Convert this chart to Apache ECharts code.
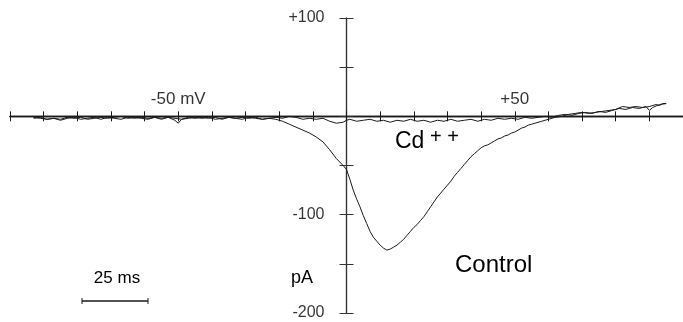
<!DOCTYPE html>
<html>
<head>
<meta charset="utf-8">
<script src="https://cdn.jsdelivr.net/npm/echarts@6/dist/echarts.min.js"></script>
<style>
  html, body { margin: 0; padding: 0; background: #fff; }
  #chart { width: 683px; height: 322px; }
</style>
</head>
<body>
<div id="chart"></div>
<script>
// voltage (mV) and current (pA)
const controlV = [-93, -91, -89, -87, -85, -83, -81, -79, -77, -75, -73, -71, -69, -67, -65, -63, -61, -59, -57, -55,
  -53, -51, -49, -47, -45, -43, -41, -39, -37, -35, -33, -31, -29, -27, -25, -23, -21, -19, -17, -15,
  -13, -11, -9, -7, -5, -3, -1, 0, 1, 2, 3, 4, 5, 6, 7, 8, 9, 10, 11, 12,
  13, 14, 15, 16, 17, 18, 19, 20, 21, 22, 23, 24, 25, 26, 27, 28, 29, 30, 31, 32,
  33, 34, 35, 36, 37, 38, 39, 40, 41, 42, 43, 44, 45, 46, 47, 48, 49, 50, 51, 52,
  53, 54, 55, 56, 58, 60, 62, 64, 66, 68, 70, 72, 74, 76, 78, 80, 82, 84, 86, 88,
  90, 92, 93, 94, 95];
const controlI = [-1, -2, -3, -2, -3, -1, -2, -1, -3, -2, -1, -2, -1, 0, -2, -1, -2, -3, -1, -2,
  -1, -2, -3, -2, -1, -2, -1, -3, -2, -1, -2, -3, -1, -2, -3, -2, -3, -5, -8, -11,
  -14, -17, -21, -26, -34, -43, -50, -54, -64, -75, -84, -92, -101, -109, -117, -123, -127, -131, -134, -136,
  -135, -133, -131, -128, -125, -121, -117, -113, -110, -106, -102, -97, -92, -87, -82, -78, -74, -70, -66, -61,
  -57, -53, -49, -45, -41, -38, -35, -32, -30, -29, -27, -25, -23, -22, -20, -19, -17, -16, -14, -12,
  -11, -9, -8, -7, -5, -3, -1, 0, 2, 3, 4, 3, 4, 5, 6, 7, 10, 9, 10, 9,
  10, 12, 11, 13, 13];

const cdV = [-93, -91, -89, -87, -85, -83, -81, -79, -77, -75, -73, -71, -69, -67, -65, -63, -61, -59, -57, -55,
  -53, -51, -50, -49, -47, -45, -43, -41, -39, -37, -35, -33, -31, -29, -27, -25, -23, -21, -19, -17,
  -15, -13, -11, -9, -7, -5, -3, -1, 0, 1, 3, 5, 7, 9, 11, 13, 15, 17, 19, 21,
  23, 25, 27, 29, 31, 33, 35, 37, 39, 41, 43, 45, 47, 49, 51, 53, 55, 57, 59, 61,
  63, 65, 67, 69, 71, 73, 75, 77, 79, 81, 83, 85, 87, 89, 90, 91, 93, 95];
const cdI = [-2, -1, -3, -2, -4, -2, -1, -3, -2, -1, -3, -1, -2, -3, -1, -2, -1, -2, -1, -3,
  -1, -4, -7, -3, -1, -2, -1, -2, -1, -3, -1, -2, -1, -2, -1, -3, -2, -1, -2, 0,
  -1, -3, -2, -3, -2, -5, -7, -6, -4, -3, -5, -4, -3, -5, -4, -6, -4, -5, -3, -5,
  -4, -6, -4, -5, -3, -5, -4, -3, -5, -3, -4, -2, -3, -2, -3, -1, -2, -1, 0, -1,
  1, 2, 1, 3, 4, 3, 5, 4, 6, 8, 7, 9, 8, 10, 6, 9, 12, 13];

// tick labels printed on the figure (value, text)
const xTickVals = [-50, 50];
const xTickText = ['-50 mV', '+50'];
const yTickVals = [100, -100, -200];
const yTickText = ['+100', '-100', '-200'];

const chart = echarts.init(document.getElementById('chart'));
const font = 'Liberation Sans, Arial, Helvetica, sans-serif';
const ink = '#1a1a1a';

const xBase = {
  type: 'value', min: -100, max: 100, interval: 10,
  splitLine: { show: false },
  axisLabel: { show: false },
  axisLine: { onZero: true, lineStyle: { color: ink, width: 1.3 } },
  axisTick: { inside: false, length: 5, lineStyle: { color: ink } },
};
const yBase = {
  type: 'value', min: -200, max: 100, interval: 50,
  splitLine: { show: false },
  axisLabel: { show: false },
  axisLine: { onZero: true, lineStyle: { color: '#333', width: 1.2 } },
  axisTick: { inside: false, length: 7, lineStyle: { color: '#333' } },
};

chart.setOption({
  animation: false,
  grid: { left: 10, right: 0, top: 18, bottom: 9, containLabel: false, outerBoundsMode: 'none' },
  // two axes per direction so the ticks cross the axis line
  xAxis: [
    Object.assign({}, xBase, { position: 'bottom' }),
    Object.assign({}, xBase, { position: 'top' }),
  ],
  yAxis: [
    Object.assign({}, yBase, { position: 'left' }),
    Object.assign({}, yBase, { position: 'right' }),
  ],
  series: [
    {
      name: 'Control', type: 'line', showSymbol: false,
      lineStyle: { color: ink, width: 1 },
      data: controlV.map((v, i) => [v, controlI[i]]),
    },
    {
      name: 'Cd++', type: 'line', showSymbol: false,
      lineStyle: { color: ink, width: 1 },
      data: cdV.map((v, i) => [v, cdI[i]]),
    },
    {
      // y tick labels, placed through the axes
      type: 'scatter', symbolSize: 0, silent: true,
      data: yTickVals.map((v, i) => [0, v, yTickText[i]]),
      label: {
        show: true, position: 'left', distance: 22, color: '#000', fontSize: 16, fontFamily: font,
        formatter: (p) => p.value[2],
      },
    },
    {
      // x tick labels above the axis
      type: 'scatter', symbolSize: 0, silent: true,
      data: xTickVals.map((v, i) => [v, 0, xTickText[i]]),
      label: {
        show: true, position: 'top', distance: 9, color: '#000', fontSize: 17, fontFamily: font,
        formatter: (p) => p.value[2],
      },
    },
  ],
  graphic: [
    { type: 'text', x: 395, y: 142, style: { text: 'Cd', font: '23px ' + font, fill: '#000', verticalAlign: 'middle' } },
    { type: 'text', x: 430, y: 137, style: { text: '+ +', font: '20px ' + font, fill: '#000', verticalAlign: 'middle' } },
    { type: 'text', x: 455, y: 265, style: { text: 'Control', font: '24px ' + font, fill: '#000', verticalAlign: 'middle' } },
    { type: 'text', x: 117, y: 278, style: { text: '25 ms', font: '17px ' + font, fill: '#000', align: 'center', verticalAlign: 'middle' } },
    { type: 'text', x: 302, y: 278, style: { text: 'pA', font: '18px ' + font, fill: '#000', align: 'center', verticalAlign: 'middle' } },
    // 25 ms scale bar
    { type: 'line', shape: { x1: 82, y1: 301, x2: 148, y2: 301 }, style: { stroke: ink, lineWidth: 1.3 } },
    { type: 'line', shape: { x1: 82, y1: 298, x2: 82, y2: 304 }, style: { stroke: ink, lineWidth: 1 } },
    { type: 'line', shape: { x1: 148, y1: 298, x2: 148, y2: 304 }, style: { stroke: ink, lineWidth: 1 } },
  ],
});
</script>
</body>
</html>
